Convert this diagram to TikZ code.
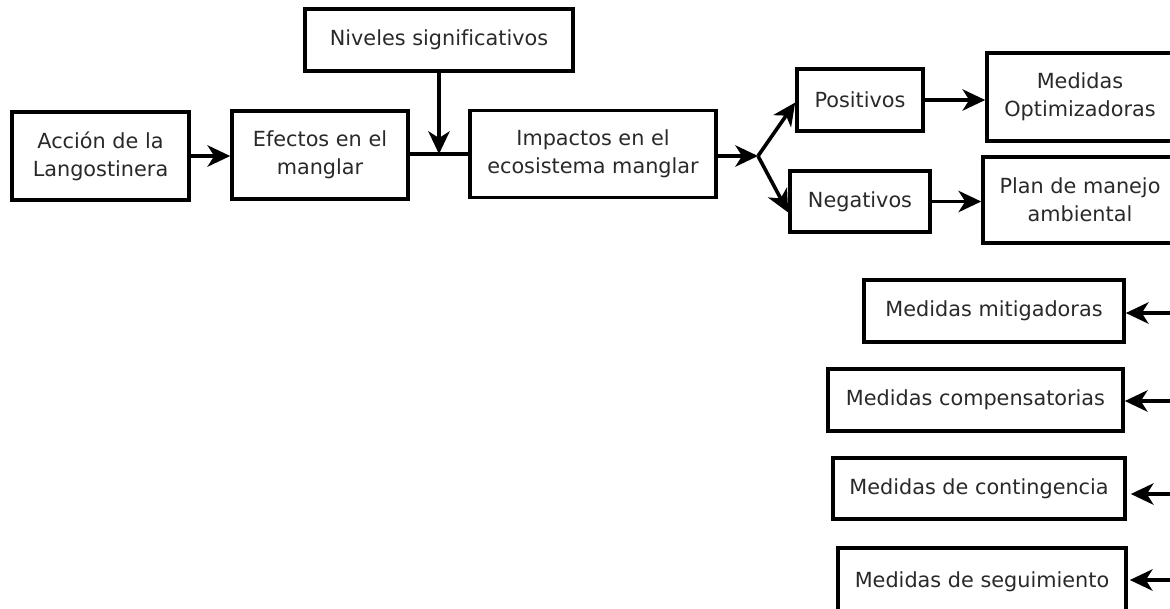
\documentclass[tikz,border=0pt]{standalone}
\usepackage{fontspec}
\setmainfont{DejaVu Sans}[Ligatures=NoCommon]
\usetikzlibrary{arrows.meta}
\definecolor{txt}{gray}{0.16}
\begin{document}
\begin{tikzpicture}[x=0.75pt,y=-0.75pt,
  box/.style={draw=black,line width=2.7pt,align=center,inner sep=0pt,
    text=txt,font=\fontsize{15.6}{21}\selectfont},
  arr/.style={line width=2.7pt,-{Stealth[length=17pt,width=16pt,inset=5pt]}},
  ln/.style={line width=2.7pt}]
\useasboundingbox (0,0) rectangle (1170,608);
\clip (0,0) rectangle (1170,608);
\node[box,minimum width=177*0.75pt,minimum height=88*0.75pt] (accion) at (100.5,156) {Acción de la\\Langostinera};
\node[box,minimum width=176*0.75pt,minimum height=88*0.75pt] (efectos) at (320,155) {Efectos en el\\manglar};
\node[box,minimum width=268*0.75pt,minimum height=62*0.75pt] (niveles) at (439,40) {Niveles significativos};
\node[box,minimum width=246*0.75pt,minimum height=87*0.75pt] (impactos) at (593,154) {Impactos en el\\ecosistema manglar};
\node[box,minimum width=126*0.75pt,minimum height=62*0.75pt] (positivos) at (860,100) {Positivos};
\node[box,minimum width=140*0.75pt,minimum height=61*0.75pt] (negativos) at (860,201.5) {Negativos};
\node[box,minimum width=186*0.75pt,minimum height=88*0.75pt] (optim) at (1080,97) {Medidas\\Optimizadoras};
\node[box,minimum width=194*0.75pt,minimum height=86*0.75pt] (plan) at (1080,200) {Plan de manejo\\ambiental};
\node[box,minimum width=260*0.75pt,minimum height=62*0.75pt] (mitig) at (994,311) {Medidas mitigadoras};
\node[box,minimum width=295*0.75pt,minimum height=62*0.75pt] (compens) at (975.5,400) {Medidas compensatorias};
\node[box,minimum width=292*0.75pt,minimum height=61*0.75pt] (conting) at (979,488.5) {Medidas de contingencia};
\node[box,minimum width=288*0.75pt,minimum height=68*0.75pt] (seguim) at (982,582) {Medidas de seguimiento};
% connectors
\draw[arr] (accion.east) -- (efectos.west |- accion.east);
\coordinate (j) at (niveles.south |- impactos.west);
\draw[ln] (efectos.east |- j) -- (impactos.west);
\draw[arr] (niveles.south) -- (j);
\coordinate (b) at (758,156);
\draw[arr] (impactos.east |- b) -- (b);
\draw[arr] (b) -- ([yshift=-2.5*0.75pt]positivos.west);
\draw[arr] (b) -- ([yshift=-11*0.75pt]negativos.west);
\draw[arr] (positivos.east) -- (optim.west |- positivos.east);
\draw[arr] (negativos.east) -- (plan.west |- negativos.east);
\coordinate (r1) at (1185,313);
\coordinate (r2) at (1185,401);
\coordinate (r3) at (1185,494);
\coordinate (r4) at (1185,580);
\draw[arr] (r1) -- (mitig.east |- r1);
\draw[arr] (r2) -- (compens.east |- r2);
\draw[arr] (r3) -- ([xshift=4*0.75pt]conting.east |- r3);
\draw[arr] (r4) -- ([xshift=2*0.75pt]seguim.east |- r4);
\end{tikzpicture}
\end{document}
